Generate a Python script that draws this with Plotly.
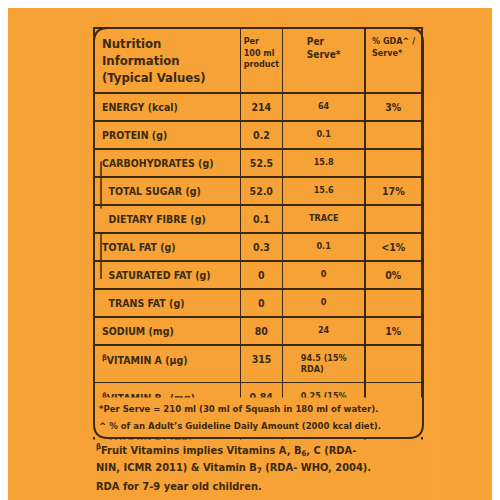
import plotly.graph_objects as go

# table contents
nutrients = ["ENERGY (kcal)", "PROTEIN (g)", "CARBOHYDRATES (g)", "TOTAL SUGAR (g)",
             "DIETARY FIBRE (g)", "TOTAL FAT (g)", "SATURATED FAT (g)", "TRANS FAT (g)",
             "SODIUM (mg)", "<sup>β</sup>VITAMIN A (µg)", "<sup>β</sup>VITAMIN B<sub>6</sub> (mg)",
             "<sup>β</sup>VITAMIN B<sub>7</sub> (µg)", "<sup>β</sup>VITAMIN C (mg)"]
indented = [3, 4, 6, 7]
per_100ml = ["214", "0.2", "52.5", "52.0", "0.1", "0.3", "0", "0", "80", "315", "0.84", "10.5", "21"]
per_serve = ["64", "0.1", "15.8", "15.6", "TRACE", "0.1", "0", "0", "24",
             "94.5 (15% RDA)", "0.25 (15% RDA)", "3.15 (15% RDA)", "6.3 (15% RDA)"]
gda = ["3%", "", "", "17%", "", "<1%", "0%", "", "1%", "", "", "", ""]
headers = ["Nutrition<br>Information<br>(Typical Values)", "Per<br>100 ml<br>product",
           "Per<br>Serve*", "% GDA^ /<br>Serve*"]
footnotes = ["*Per Serve = 210 ml (30 ml of Squash in 180 ml of water).",
             "^ % of an Adult’s Guideline Daily Amount (2000 kcal diet)."]
note_lines = ["<sup>β</sup>Fruit Vitamins implies Vitamins A, B<sub>6</sub>, C (RDA-",
              "NIN, ICMR 2011) & Vitamin B<sub>7</sub> (RDA- WHO, 2004).",
              "RDA for 7-9 year old children."]

BG = "#F6A236"
INK = "#3b2a12"
FONT = "DejaVu Sans Condensed, DejaVu Sans, sans-serif"

def py(v):
    return 1 - v / 500

labels = [("\u00a0\u00a0" + n) if i in indented else n for i, n in enumerate(nutrients)]
labels = ["<b>" + t + "</b>" for t in labels]

fig = go.Figure(go.Table(
    domain=dict(x=[86 / 500, 415 / 500], y=[0, py(20)]),
    columnwidth=[147, 42, 83, 57],
    header=dict(values=["<b>" + h + "</b>" for h in headers],
                align=["left", "center", "center", "center"],
                fill_color=BG, line=dict(color=INK, width=1.5),
                font=dict(family=FONT, size=[13, 9, 10, 9], color=INK), height=63),
    cells=dict(values=[labels,
                       ["<b>" + v + "</b>" for v in per_100ml],
                       ["<b>" + v + "</b>" for v in per_serve],
                       ["<b>" + v + "</b>" for v in gda]],
               align=["left", "center", "center", "center"],
               fill_color=BG, line=dict(color=INK, width=1.5),
               font=dict(family=FONT, size=[10.5, 10.5, 9, 10.5], color=INK), height=23.5),
))

shapes = []
# inner lines for indented rows
for a, b in [(3, 4), (6, 7)]:
    shapes.append(dict(type="line", xref="paper", yref="paper", x0=93 / 500, x1=93 / 500,
                       y0=py(83 + 23.5 * a), y1=py(83 + 23.5 * (b + 1)),
                       line=dict(color=INK, width=1.5)))
# cover empty table area below the last row
shapes.append(dict(type="rect", xref="paper", yref="paper", x0=85 / 500, x1=416 / 500,
                   y0=py(429), y1=py(389.5), fillcolor=BG, line_width=0))
# rounded outer frame
x0, x1, y0, y1, r = 86 / 500, 415 / 500, py(20), py(430), 14 / 500
path = (f"M {x0+r},{y0} L {x1-r},{y0} Q {x1},{y0} {x1},{y0-r} L {x1},{y1+r} "
        f"Q {x1},{y1} {x1-r},{y1} L {x0+r},{y1} Q {x0},{y1} {x0},{y1+r} "
        f"L {x0},{y0-r} Q {x0},{y0} {x0+r},{y0} Z")
shapes.append(dict(type="path", xref="paper", yref="paper", path=path,
                   line=dict(color=INK, width=2)))
# hide the table lines below the frame
shapes.append(dict(type="rect", xref="paper", yref="paper", x0=80 / 500, x1=420 / 500,
                   y0=0, y1=py(431.5), fillcolor=BG, line_width=0))

annotations = []
for i, t in enumerate(footnotes):
    annotations.append(dict(text="<b>" + t + "</b>", xref="paper", yref="paper",
                            x=89 / 500, y=py(400 + 17 * i), xanchor="left", yanchor="middle",
                            showarrow=False, font=dict(family=FONT, size=9.5, color=INK)))
for i, t in enumerate(note_lines):
    annotations.append(dict(text="<b>" + t + "</b>", xref="paper", yref="paper",
                            x=86 / 500, y=py(442 + 18 * i), xanchor="left", yanchor="middle",
                            showarrow=False, font=dict(family=FONT, size=11, color=INK)))

fig.update_layout(width=500, height=500, margin=dict(l=0, r=0, t=0, b=0),
                  paper_bgcolor=BG, plot_bgcolor=BG, shapes=shapes, annotations=annotations)
fig.write_html("out.html")
